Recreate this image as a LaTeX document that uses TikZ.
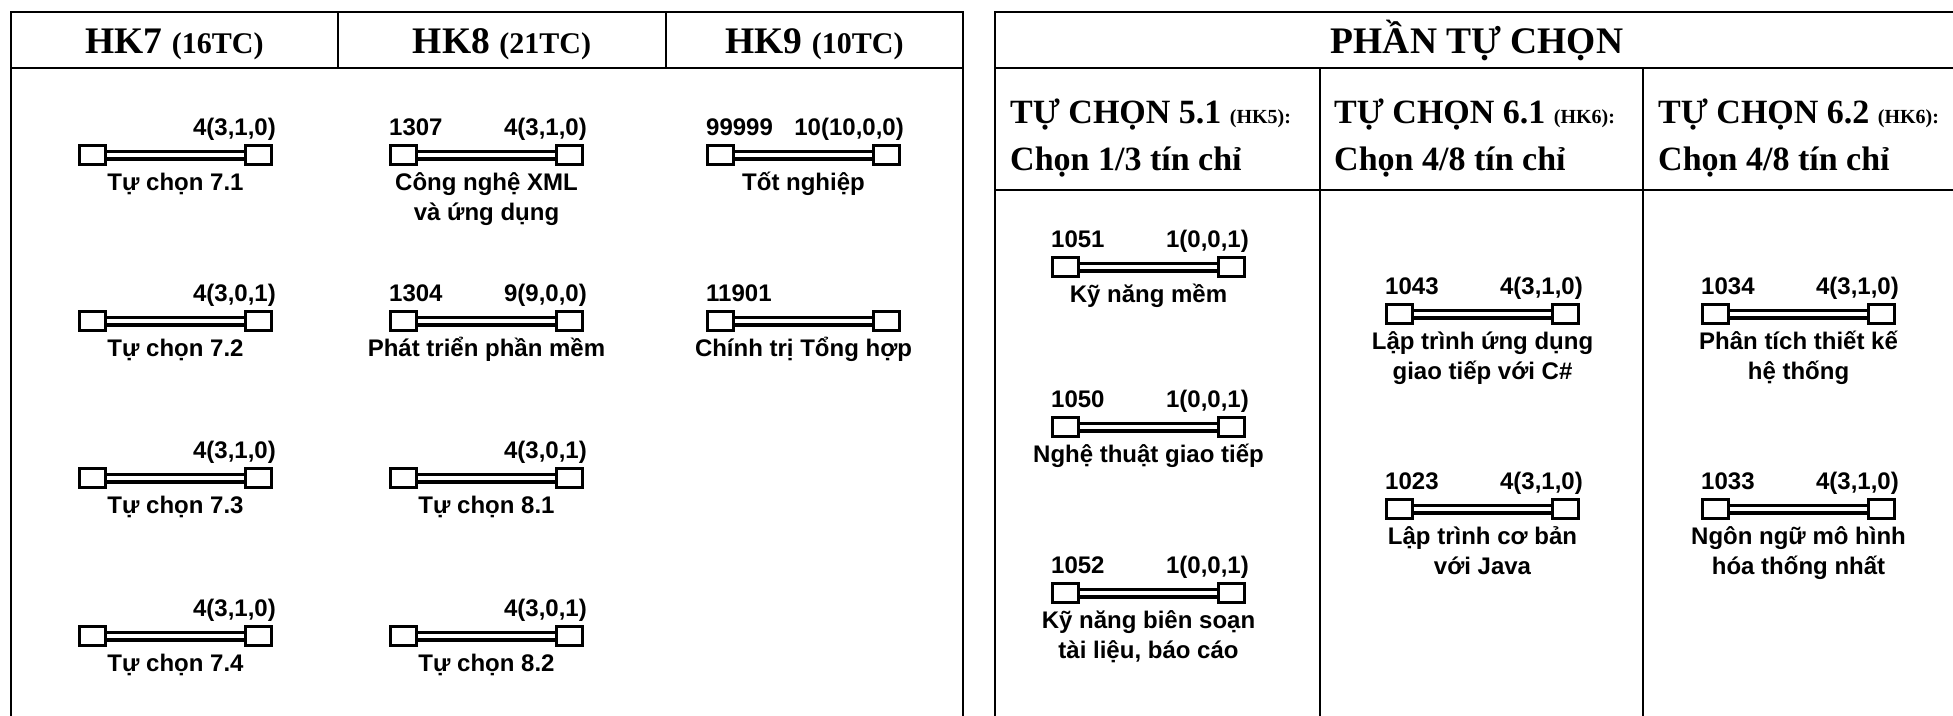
\documentclass[tikz,border=0pt]{standalone}
\usepackage{fontspec}
\setmainfont{Liberation Serif}
\newfontfamily\arialf{Liberation Sans}
\tikzset{
  sq/.style={draw, line width=2.8pt, minimum width=26.2pt, minimum height=19.2pt, inner sep=0pt, fill=white},
  dbl/.style={line width=3.3pt, double=white, double distance=4.4pt},
  lbl/.style={font=\arialf\bfseries\fontsize{24}{30}\selectfont, inner sep=0pt},
  hdr/.style={font=\bfseries\fontsize{37.5}{40}\selectfont, inner sep=0pt, anchor=base},
  subh/.style={font=\bfseries\fontsize{34}{40}\selectfont, inner sep=0pt, anchor=base west},
  frame/.style={line width=2.5pt},
}
% #1 id, #2 xleft, #3 ytop, #4 code, #5 credit, #6 title line 1, #7 title line 2
\newcommand\crs[7]{%
  \node[sq] (#1a) at ({#2+14.5},{#3+11}) {};
  \node[sq] (#1b) at ({#2+180.5},{#3+11}) {};
  \draw[dbl] (#1a) -- (#1b);
  \node[lbl, anchor=base west] (#1c) at (#2,{#3-9}) {#4};
  \node[lbl, anchor=base east] (#1k) at ({#2+198},{#3-9}) {#5};
  \node[lbl, anchor=base] (#1t) at ({#2+97.5},{#3+46}) {#6};
  \node[lbl, anchor=base] (#1u) at ({#2+97.5},{#3+76}) {#7};
}
\newcommand\smallp[1]{{\fontsize{30}{32}\selectfont #1}}
\newcommand\smallh[1]{{\fontsize{20}{24}\selectfont #1}}
\begin{document}
\begin{tikzpicture}[x=1pt, y=-1pt]
\useasboundingbox (0,0) rectangle (1953,715);
\clip (0,0) rectangle (1953,715);
\fill[white] (0,0) rectangle (1953,715);
% left table
\draw[frame] (11,740) -- (11,12) -- (963,12) -- (963,740);
\draw[frame] (11,68) -- (963,68);
\draw[frame] (338,12) -- (338,68);
\draw[frame] (666,12) -- (666,68);
\node[hdr] (h7) at (174.5,53) {HK7 \smallp{(16TC)}};
\node[hdr] (h8) at (502,53) {HK8 \smallp{(21TC)}};
\node[hdr] (h9) at (814.5,53) {HK9 \smallp{(10TC)}};
% right table
\draw[frame] (995,740) -- (995,12) -- (1960,12) -- (1960,740);
\draw[frame] (995,68) -- (1960,68);
\draw[frame] (995,190) -- (1960,190);
\draw[frame] (1320,68) -- (1320,740);
\draw[frame] (1643,68) -- (1643,740);
\node[hdr] (ptc) at (1477,53) {PHẦN TỰ CHỌN};
\node[subh] (s51) at (1010,123) {TỰ CHỌN 5.1 \smallh{(HK5):}};
\node[subh] (s51b) at (1010,170) {Chọn 1/3 tín chỉ};
\node[subh] (s61) at (1334,123) {TỰ CHỌN 6.1 \smallh{(HK6):}};
\node[subh] (s61b) at (1334,170) {Chọn 4/8 tín chỉ};
\node[subh] (s62) at (1658,123) {TỰ CHỌN 6.2 \smallh{(HK6):}};
\node[subh] (s62b) at (1658,170) {Chọn 4/8 tín chỉ};
% HK7
\crs{p71}{78}{144}{}{4(3,1,0)}{Tự chọn 7.1}{}
\crs{p72}{78}{310}{}{4(3,0,1)}{Tự chọn 7.2}{}
\crs{p73}{78}{467}{}{4(3,1,0)}{Tự chọn 7.3}{}
\crs{p74}{78}{625}{}{4(3,1,0)}{Tự chọn 7.4}{}
% HK8
\crs{p81}{389}{144}{1307}{4(3,1,0)}{Công nghệ XML}{và ứng dụng}
\crs{p82}{389}{310}{1304}{9(9,0,0)}{Phát triển phần mềm}{}
\crs{p83}{389}{467}{}{4(3,0,1)}{Tự chọn 8.1}{}
\crs{p84}{389}{625}{}{4(3,0,1)}{Tự chọn 8.2}{}
% HK9
\crs{p91}{706}{144}{99999}{10(10,0,0)}{Tốt nghiệp}{}
\crs{p92}{706}{310}{11901}{}{Chính trị Tổng hợp}{}
% 5.1
\crs{q51}{1051}{256}{1051}{1(0,0,1)}{Kỹ năng mềm}{}
\crs{q50}{1051}{416}{1050}{1(0,0,1)}{Nghệ thuật giao tiếp}{}
\crs{q52}{1051}{582}{1052}{1(0,0,1)}{Kỹ năng biên soạn}{tài liệu, báo cáo}
% 6.1
\crs{q43}{1385}{303}{1043}{4(3,1,0)}{Lập trình ứng dụng}{giao tiếp với C\#}
\crs{q23}{1385}{498}{1023}{4(3,1,0)}{Lập trình cơ bản}{với Java}
% 6.2
\crs{q34}{1701}{303}{1034}{4(3,1,0)}{Phân tích thiết kế}{hệ thống}
\crs{q33}{1701}{498}{1033}{4(3,1,0)}{Ngôn ngữ mô hình}{hóa thống nhất}
\end{tikzpicture}
\end{document}
